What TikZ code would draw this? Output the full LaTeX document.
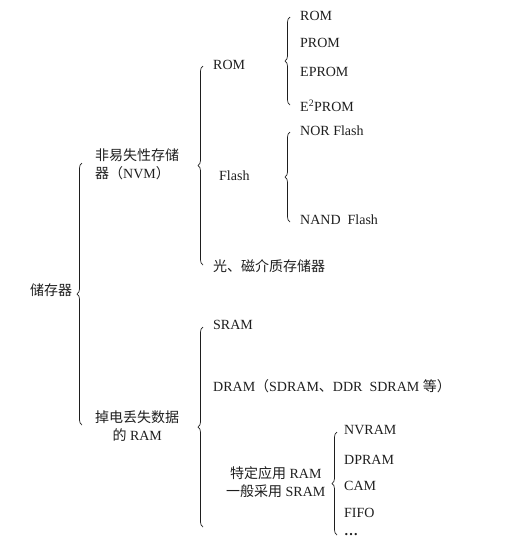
\documentclass[tikz,border=0pt]{standalone}
\usepackage{fontspec}
\setmainfont{Liberation Serif}
\newfontfamily\cjk{Noto Sans CJK SC}
\usetikzlibrary{decorations.pathreplacing}
\definecolor{TreeInk}{HTML}{1E1E1E}
\newcommand{\zh}[1]{{\cjk #1}}
\tikzset{
  item/.style={anchor=west,inner sep=0pt,text=TreeInk,
    font=\fontsize{14}{18}\selectfont},
  bracket/.style={decorate,decoration={brace,amplitude=5pt},
    draw=TreeInk,line width=0.7pt},
}

\begin{document}
\begin{tikzpicture}[x=1pt,y=-1pt]
  \useasboundingbox (0,0) rectangle (508,542);

  % first level
  \node[item] (store) at (30,290) {\zh{储存器}};
  \coordinate (storeTop) at (82,163);
  \coordinate (storeBot) at (82,425);
  \draw[bracket] (storeBot) -- (storeTop);

  % non volatile branch
  \node[item,align=left] (nvm) at (95,164) {\zh{非易失性存储}\\\zh{器（}NVM\zh{）}};
  \coordinate (nvmTop) at (203,66);
  \coordinate (nvmBot) at (203,265);
  \draw[bracket] (nvmBot) -- (nvmTop);

  \node[item] (rom) at (213,65) {ROM};
  \node[item] (flash) at (219,176) {Flash};
  \node[item] (disk) at (213,266) {\zh{光、磁介质存储器}};

  \node[item] (rom1) at (300,16) {ROM};
  \node[item] (rom2) at (300,43) {PROM};
  \node[item] (rom3) at (300,72) {EPROM};
  \node[item] (rom4) at (300,106) {E\textsuperscript{2}PROM};
  \coordinate (romTop) at (290,17);
  \coordinate (romBot) at (290,105);
  \draw[bracket] (romBot) -- (romTop);

  \node[item] (nor) at (300,131) {NOR Flash};
  \node[item] (nand) at (300,220) {NAND~~Flash};
  \coordinate (flashTop) at (290,132);
  \coordinate (flashBot) at (290,222);
  \draw[bracket] (flashBot) -- (flashTop);

  % volatile branch
  \node[item,align=center] (ram) at (95,426) {\zh{掉电丢失数据}\\\zh{的} RAM};
  \coordinate (ramTop) at (203,327);
  \coordinate (ramBot) at (203,527);
  \draw[bracket] (ramBot) -- (ramTop);

  \node[item] (sram) at (213,325) {SRAM};
  \node[item] (dram) at (213,386) {DRAM\zh{（}SDRAM\zh{、}DDR~~SDRAM \zh{等）}};
  \node[item,align=center] (spec) at (226,482) {\zh{特定应用} RAM\\\zh{一般采用} SRAM};

  \node[item] (nvram) at (344,430) {NVRAM};
  \node[item] (dpram) at (344,460) {DPRAM};
  \node[item] (cam) at (344,486) {CAM};
  \node[item] (fifo) at (344,513) {FIFO};
  \node[item] (more) at (344,535) {\textbf{\ldots}};
  \coordinate (specTop) at (337,432);
  \coordinate (specBot) at (337,535);
  \draw[bracket] (specBot) -- (specTop);
\end{tikzpicture}
\end{document}
